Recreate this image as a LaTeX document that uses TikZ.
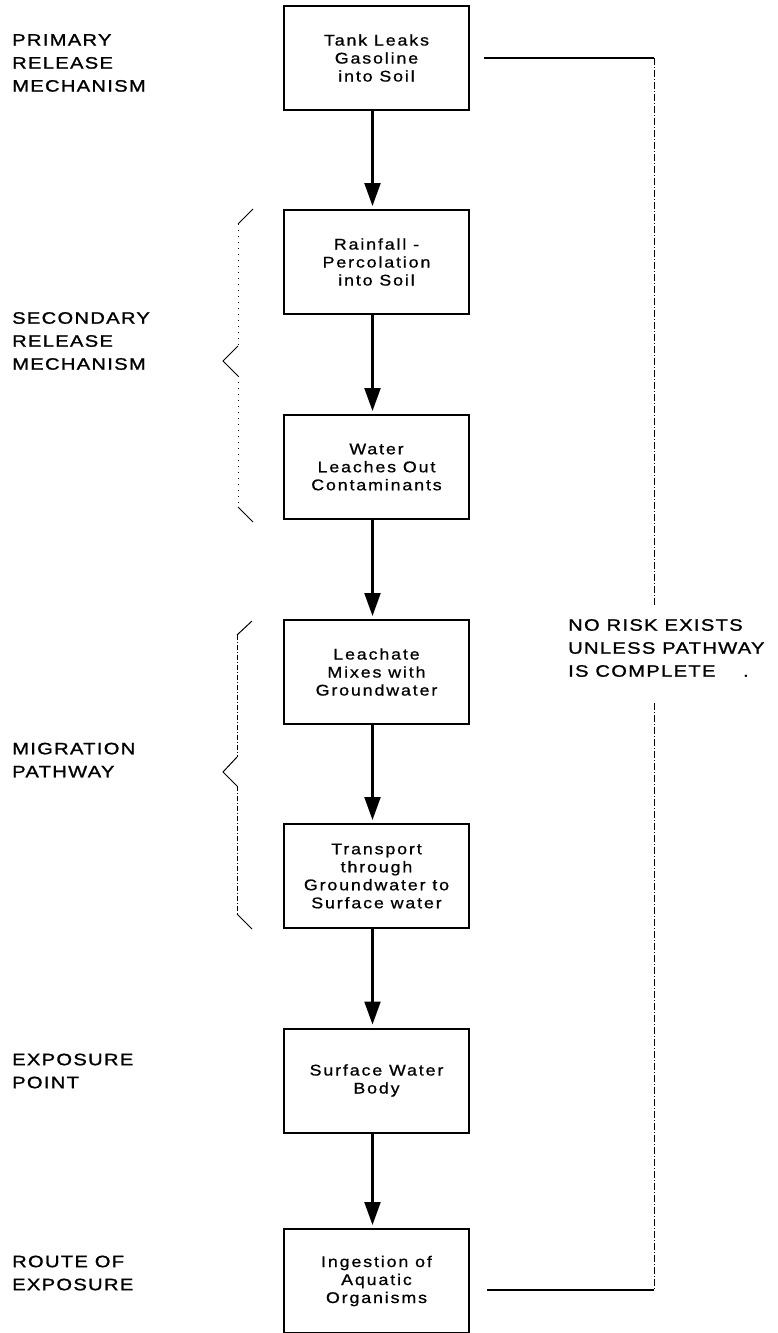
\documentclass[tikz,border=0pt]{standalone}
\usepackage{fontspec}
\usetikzlibrary{arrows.meta}
\setmainfont{Liberation Sans}
\newfontfamily\boxfont[FakeStretch=1.15,LetterSpace=12,FakeBold=0.8]{Liberation Sans}
\newfontfamily\labfont[FakeStretch=1.22,LetterSpace=8,FakeBold=1.2]{Liberation Sans}
\begin{document}
\begin{tikzpicture}[x=1pt,y=-1pt,
  stepbox/.style={draw, line width=2pt, minimum width=185pt, minimum height=104pt, inner sep=0pt, align=center, font=\boxfont\fontsize{15.5}{18}\selectfont},
  lab/.style={anchor=west, align=left, inner sep=0pt, font=\labfont\fontsize{16.5}{23}\selectfont},
  flow/.style={line width=2.2pt, -{Triangle[length=23pt,width=16pt]}, shorten >=3pt},
  brk/.style={line width=1pt},
  brkdot/.style={line width=0.7pt, dash pattern=on 1pt off 5pt},
  brkdash/.style={line width=0.7pt, dash pattern=on 5pt off 2pt on 1pt off 2pt},
  rdash/.style={line width=0.8pt, dash pattern=on 7pt off 2pt on 1pt off 2pt},
  rline/.style={line width=1.8pt}]
\useasboundingbox (0,0) rectangle (777,1333);
\fill[white] (0,0) rectangle (777,1333);

% boxes
\node[stepbox] (b1) at (376.5,58) {Tank Leaks\\Gasoline\\into Soil};
\node[stepbox] (b2) at (376.5,262) {Rainfall -\\Percolation\\into Soil};
\node[stepbox] (b3) at (376.5,467) {Water\\Leaches Out\\Contaminants};
\node[stepbox] (b4) at (376.5,672) {Leachate\\Mixes with\\Groundwater};
\node[stepbox] (b5) at (376.5,876) {Transport\\through\\Groundwater to\\Surface water};
\node[stepbox] (b6) at (376.5,1080.5) {Surface Water\\Body};
\node[stepbox] (b7) at (376.5,1281) {Ingestion of\\Aquatic\\Organisms};

% arrows
\draw[flow] ([xshift=-4pt]b1.south) -- ([xshift=-4pt]b2.north);
\draw[flow] ([xshift=-4pt]b2.south) -- ([xshift=-4pt]b3.north);
\draw[flow] ([xshift=-4pt]b3.south) -- ([xshift=-4pt]b4.north);
\draw[flow] ([xshift=-4pt]b4.south) -- ([xshift=-4pt]b5.north);
\draw[flow] ([xshift=-4pt]b5.south) -- ([xshift=-4pt]b6.north);
\draw[flow] ([xshift=-4pt]b6.south) -- ([xshift=-4pt]b7.north);

% left labels
\node[lab] (l1) at (12,63) {PRIMARY\\RELEASE\\MECHANISM};
\node[lab] (l2) at (12,341) {SECONDARY\\RELEASE\\MECHANISM};
\node[lab] (l3) at (12,760) {MIGRATION\\PATHWAY};
\node[lab] (l4) at (12,1071) {EXPOSURE\\POINT};
\node[lab] (l5) at (12,1273) {ROUTE OF\\EXPOSURE};

% right note
\node[lab] (nr) at (568,648) {NO RISK EXISTS\\UNLESS PATHWAY\\IS COMPLETE\ \ \ \ .};

% right bracket line
\coordinate (c1) at (484,58);
\coordinate (c2) at (654,58);
\coordinate (c3) at (654,605);
\coordinate (c4) at (654,703);
\coordinate (c5) at (654,1290);
\coordinate (c6) at (487,1290);
\draw[rline] (c1) -- (c2);
\draw[rdash] (c2) -- (c3);
\draw[rdash] (c4) -- (c5);
\draw[rline] (c5) -- (c6);

% bracket 1 (secondary release)
\draw[brk] (253,209) -- (238,224);
\draw[brkdot] (238,224) -- (238,346);
\draw[brk] (238,346) -- (223,361) -- (238,376);
\draw[brkdot] (238,376) -- (238,507);
\draw[brk] (238,507) -- (253,522);

% bracket 2 (migration pathway)
\draw[brk] (252,621) -- (237,635);
\draw[brkdash] (237,635) -- (237,757);
\draw[brk] (237,757) -- (223,772) -- (237,786);
\draw[brkdash] (237,786) -- (237,914);
\draw[brk] (237,914) -- (252,929);
\end{tikzpicture}
\end{document}
